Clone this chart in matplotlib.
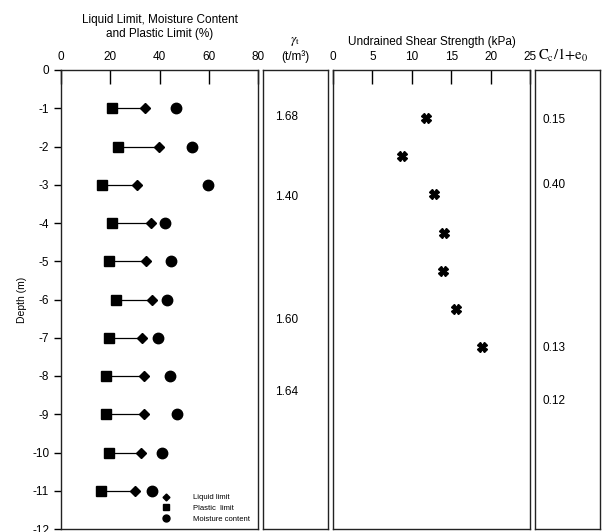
import matplotlib
matplotlib.use("Agg")
from matplotlib import pyplot as plt
from matplotlib.lines import Line2D

plt.rcParams['font.family'] = ['Liberation Sans', 'DejaVu Sans']
plt.rcParams['axes.unicode_minus'] = False
plt.rcParams['mathtext.fontset'] = 'stix'

# Atterberg limits and moisture content (%)
depth = [-1, -2, -3, -4, -5, -6, -7, -8, -9, -10, -11]
plastic = [20.6, 23.0, 16.8, 20.7, 19.4, 22.2, 19.6, 18.4, 18.1, 19.6, 16.1]
liquid = [34.1, 39.8, 30.7, 36.4, 34.5, 37.0, 32.9, 33.6, 33.8, 32.5, 30.0]
moisture = [46.7, 53.1, 59.8, 42.2, 44.7, 42.9, 39.4, 44.1, 47.2, 41.0, 36.8]

# undrained shear strength (kPa)
su_depth = [-1.25, -2.25, -3.25, -4.25, -5.25, -6.25, -7.25]
su = [11.8, 8.8, 12.8, 14.1, 13.9, 15.6, 18.9]

# unit weight (t/m3)
gamma_depth = [-1.22, -3.32, -6.54, -8.43]
gamma = ["1.68", "1.40", "1.60", "1.64"]

# Cc/1+e0
cc_depth = [-1.32, -3.0, -7.27, -8.65]
cc = ["0.15", "0.40", "0.13", "0.12"]

W, H = 602, 532
fig = plt.figure(figsize=(W / 100, H / 100), dpi=100)

def box(x0, x1):
    ax = fig.add_axes([x0 / W, 3 / H, (x1 - x0) / W, 459 / H])
    ax.set_ylim(-12, 0)
    for s in ax.spines.values():
        s.set_linewidth(1.0)
        s.set_color("#222222")
    return ax

fs = 8.5

# --- limits panel
ax1 = box(61, 258)
ax1.set_xlim(0, 80)
ax1.xaxis.tick_top()
ax1.set_xticks([0, 20, 40, 60, 80])
ax1.tick_params(axis="x", direction="in", length=10, labelsize=fs, pad=5, width=1)
ax1.set_yticks(range(0, -13, -1))
ax1.tick_params(axis="y", direction="out", length=5, labelsize=fs, width=1)
ax1.set_ylabel("Depth (m)", fontsize=7.5, labelpad=4)
for d, p, l in zip(depth, plastic, liquid):
    ax1.plot([p, l], [d, d], color="black", lw=0.9)
ax1.plot(liquid, depth, "D", color="black", ms=5.5, ls="none")
ax1.plot(plastic, depth, "s", color="black", ms=7.5, ls="none")
ax1.plot(moisture, depth, "o", color="black", ms=7.5, ls="none")
ax1.text(0.5, 1.066, "Liquid Limit, Moisture Content\nand Plastic Limit (%)",
         transform=ax1.transAxes, ha="center", va="bottom", fontsize=fs, linespacing=1.15)

handles = [Line2D([], [], marker="D", color="black", ls="none", ms=3.5),
           Line2D([], [], marker="s", color="black", ls="none", ms=5),
           Line2D([], [], marker="o", color="black", ls="none", ms=5)]
ax1.legend(handles, ["Liquid limit", "Plastic  limit", "Moisture content"],
           loc="lower right", bbox_to_anchor=(0.99, 0.0), fontsize=5.5, frameon=False,
           handletextpad=3.0, labelspacing=0.45, borderpad=0.3, handlelength=1.0)

# --- unit weight panel
ax2 = box(263, 328)
ax2.set_xlim(0, 1)
ax2.set_xticks([])
ax2.set_yticks([])
for d, g in zip(gamma_depth, gamma):
    ax2.text(0.18, d, g, ha="left", va="center", fontsize=fs)
ax2.text(0.5, 1.048, r"$\gamma_\mathrm{t}$", transform=ax2.transAxes,
         ha="center", va="bottom", fontsize=9.5)
ax2.text(0.5, 1.015, "(t/m³)", transform=ax2.transAxes,
         ha="center", va="bottom", fontsize=fs)

# --- shear strength panel
ax3 = box(333, 530)
ax3.set_xlim(0, 25)
ax3.xaxis.tick_top()
ax3.set_xticks([0, 5, 10, 15, 20, 25])
ax3.tick_params(axis="x", direction="in", length=10, labelsize=fs, pad=5, width=1)
ax3.set_yticks([])
ax3.plot(su, su_depth, "X", color="black", ms=7, ls="none")
ax3.text(0.5, 1.048, "Undrained Shear Strength (kPa)", transform=ax3.transAxes,
         ha="center", va="bottom", fontsize=fs)

# --- compression index panel
ax4 = box(535, 600)
ax4.set_xlim(0, 1)
ax4.set_xticks([])
ax4.set_yticks([])
for d, c in zip(cc_depth, cc):
    ax4.text(0.12, d, c, ha="left", va="center", fontsize=fs)
ax4.text(0.05, 1.012, r"$\mathrm{C_c/1{+}e_0}$", transform=ax4.transAxes,
         ha="left", va="bottom", fontsize=10.5)

fig.savefig("out.png", dpi=100)
